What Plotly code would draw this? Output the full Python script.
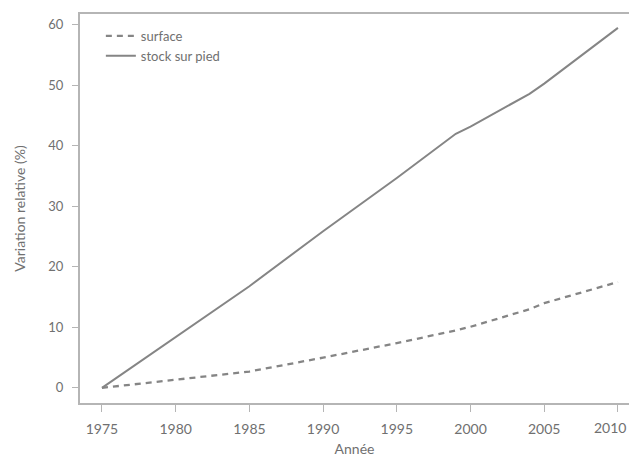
import plotly.graph_objects as go

years = [1975, 1980, 1985, 1990, 1995, 1999, 2000, 2004, 2005, 2010]
stock = [0.0, 8.4, 16.8, 25.9, 34.7, 42.0, 43.2, 48.6, 50.3, 59.5]
surface = [0.0, 1.3, 2.7, 5.0, 7.4, 9.5, 10.1, 13.0, 14.0, 17.5]

x_ticks = [1975, 1980, 1985, 1990, 1995, 2000, 2005, 2010]
x_labels = ["1975", "1980", "1985", "1990", "1995", "2000", "2005", ""]
last_label = "2010"
y_ticks = [0, 10, 20, 30, 40, 50, 60]

line_col = "#858585"
axis_col = "#b5b5b5"
font_col = "#707070"

fig = go.Figure()
fig.add_trace(go.Scatter(x=years, y=surface, mode="lines", name="surface",
                         line=dict(color=line_col, width=2.3, dash="6px,5px")))
fig.add_trace(go.Scatter(x=years, y=stock, mode="lines", name="stock sur pied",
                         line=dict(color=line_col, width=2)))

# last tick label nudged left so it stays inside the frame (as in the reference)
fig.add_annotation(x=x_ticks[-1], y=0, xref="x", yref="paper", text=last_label,
                   showarrow=False, xanchor="center", yanchor="top",
                   xshift=-8, yshift=-14, font=dict(size=14, color=font_col))

fig.update_layout(
    width=629, height=459,
    margin=dict(l=80, r=0, t=14, b=56),
    paper_bgcolor="white", plot_bgcolor="white",
    font=dict(family="Lato, sans-serif", size=14, color=font_col),
    showlegend=True,
    legend=dict(x=0.038, y=0.982, xanchor="left", yanchor="top",
                bgcolor="rgba(0,0,0,0)", tracegroupgap=0,
                itemwidth=30, font=dict(size=13, color=font_col)),
    xaxis=dict(range=[1973.51, 2010.75], tickvals=x_ticks, ticktext=x_labels,
               ticks="outside", ticklen=7, tickcolor=axis_col, showline=True,
               linecolor=axis_col, linewidth=2, mirror=True, showgrid=False,
               zeroline=False, ticklabelstandoff=5, tickfont=dict(size=14),
               title=dict(text="Année", standoff=8, font=dict(size=14))),
    yaxis=dict(range=[-2.5, 61.8], tickvals=y_ticks, ticks="outside",
               ticklen=6, tickcolor=axis_col, showline=True, linecolor=axis_col,
               linewidth=2, showgrid=False, zeroline=False,
               ticklabelstandoff=6, tickfont=dict(size=13),
               title=dict(text="Variation relative (%)", standoff=19, font=dict(size=14))),
)

fig.write_html("out.html", config={"displayModeBar": False},
               post_script="document.body.style.margin='0';document.body.style.overflow='hidden';")
